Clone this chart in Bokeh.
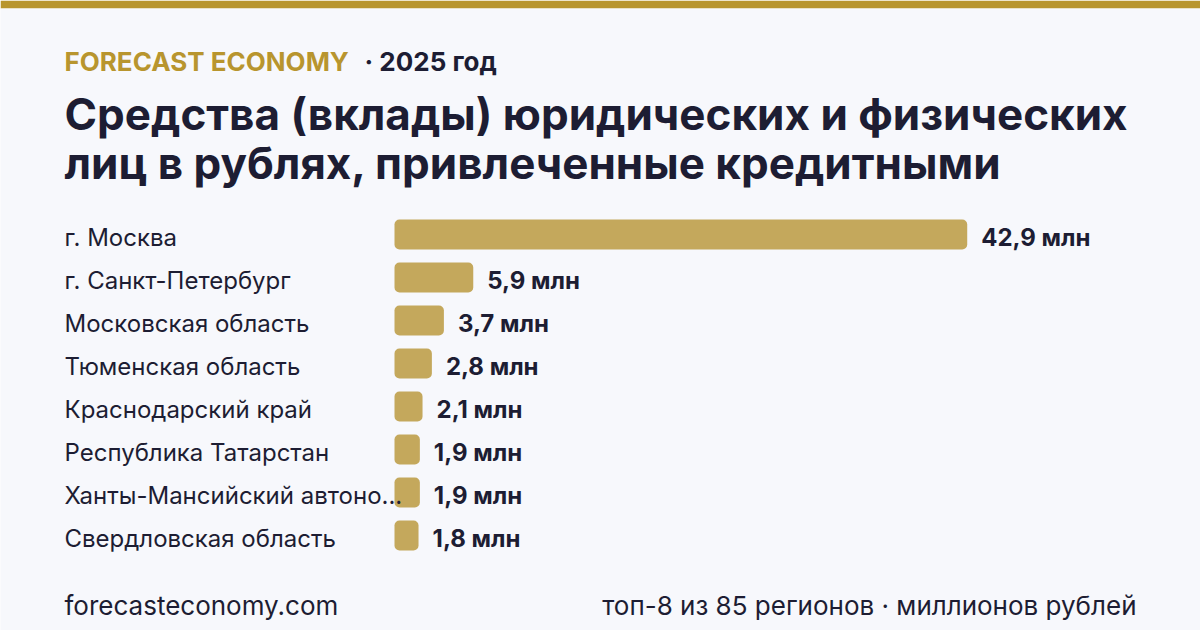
from bokeh.plotting import figure
from bokeh.models import Range1d, ColumnDataSource
from bokeh.core.properties import value
from bokeh.embed import file_html
from bokeh.resources import INLINE

# ---- data ----
regions = [
    "г. Москва",
    "г. Санкт-Петербург",
    "Московская область",
    "Тюменская область",
    "Краснодарский край",
    "Республика Татарстан",
    "Ханты-Мансийский автоно...",
    "Свердловская область",
]
values = [42.9, 5.9, 3.7, 2.8, 2.1, 1.9, 1.9, 1.8]
value_labels = ["42,9 млн", "5,9 млн", "3,7 млн", "2,8 млн", "2,1 млн", "1,9 млн", "1,9 млн", "1,8 млн"]
brand = "FORECAST ECONOMY"
period = "· 2025 год"
title_lines = ["Средства (вклады) юридических и физических",
               "лиц в рублях, привлеченные кредитными"]
footer_left = "forecasteconomy.com"
footer_right = "топ-8 из 85 регионов · миллионов рублей"

# ---- style / layout ----
W, H = 1200, 630
TOP = 8
BG = "#f7f8fc"
GOLD = "#b8952e"
BAR = "#c4a85c"
DARK = "#1d1d33"
FONT = "Inter"

PX_PER_UNIT = 13.35
X0 = 394.0          # pixel of value 0
ROW0 = 234.0        # pixel center of first row
ROW_H = 43.0
SHIFT = 0.35        # baseline correction (fraction of font size)

x_start = -X0 / PX_PER_UNIT
x_end = (W - X0) / PX_PER_UNIT
y_top = (TOP - ROW0) / ROW_H
y_bot = (H - ROW0) / ROW_H

def px_x(px):
    return (px - X0) / PX_PER_UNIT

def px_y(px, fs=0):
    return (px - SHIFT * fs - ROW0) / ROW_H

p = figure(width=W, height=H, output_backend="svg", toolbar_location=None,
           x_range=Range1d(x_start, x_end), y_range=Range1d(y_bot, y_top),
           min_border_left=0, min_border_right=0, min_border_bottom=0,
           min_border_top=TOP, border_fill_color=GOLD,
           background_fill_color=BG, outline_line_color=None)
p.axis.visible = False
p.grid.visible = False

CAT_FS = 24
VAL_FS = 24
rows = list(range(len(regions)))
src = ColumnDataSource(dict(
    y=rows, v=values, region=regions, lab=value_labels,
    lab_x=[v + 14 / PX_PER_UNIT for v in values],
    cat_y=[r + (11 - SHIFT * CAT_FS) / ROW_H for r in rows],
    val_y=[r + (11 - SHIFT * VAL_FS) / ROW_H for r in rows],
    cat_x=[px_x(64)] * len(rows),
))

p.hbar(y="y", left=0, right="v", height=30 / ROW_H, source=src,
       fill_color=BAR, line_color=None, border_radius=5)

p.text(x="cat_x", y="cat_y", text="region", source=src,
       text_font=value(FONT), text_font_size=f"{CAT_FS}px", text_color=DARK,
       text_baseline="alphabetic", text_align="left")
p.text(x="lab_x", y="val_y", text="lab", source=src,
       text_font=value(FONT), text_font_size=f"{VAL_FS}px", text_font_style="bold",
       text_color=DARK, text_baseline="alphabetic", text_align="left")

# header
p.text(x=[px_x(64)], y=[px_y(70, 26)], text=[brand], text_font=value(FONT),
       text_font_size="26px", text_font_style="bold", text_color=GOLD,
       text_baseline="alphabetic")
p.text(x=[px_x(364)], y=[px_y(70, 26)], text=[period], text_font=value(FONT),
       text_font_size="26px", text_font_style="bold", text_color=DARK,
       text_baseline="alphabetic")
p.text(x=[px_x(64)] * 2, y=[px_y(129, 44), px_y(178, 44)], text=title_lines,
       text_font=value(FONT), text_font_size="44px", text_font_style="bold",
       text_color=DARK, text_baseline="alphabetic")

# footer
p.text(x=[px_x(64)], y=[px_y(614, 26)], text=[footer_left], text_font=value(FONT),
       text_font_size="26px", text_color=DARK, text_baseline="alphabetic")
p.text(x=[px_x(1136)], y=[px_y(614, 26)], text=[footer_right], text_font=value(FONT),
       text_font_size="26px", text_color=DARK, text_baseline="alphabetic",
       text_align="right")

html = file_html(p, INLINE)
html = html.replace("<body>", '<body style="margin:0;padding:0;">')
open("out.html", "w").write(html)
